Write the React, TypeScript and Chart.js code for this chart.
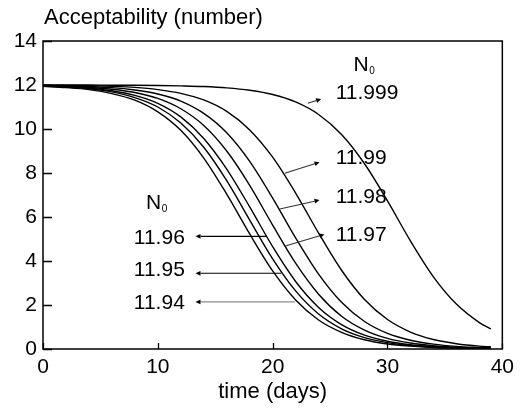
import React, { useEffect, useRef } from "react";
import { Chart, registerables } from "chart.js";

Chart.register(...registerables);

const FONT = "'Liberation Sans', Arial, Helvetica, sans-serif";

// Time axis (days) shared by every curve
const days = [0, 2, 4, 6, 8, 10, 12, 14, 16, 18, 20, 22, 24, 26, 28, 30, 32, 34, 36, 38, 39];

// Acceptability for each initial value N0
const n11999 = [12.0, 12.0, 12.0, 11.99, 11.99, 11.98, 11.96, 11.93, 11.87, 11.76, 11.57, 11.23, 10.66, 9.75, 8.42, 6.73, 4.91, 3.28, 2.04, 1.2, 0.91];
const n1199 = [11.99, 11.98, 11.97, 11.94, 11.89, 11.79, 11.62, 11.32, 10.8, 9.96, 8.72, 7.09, 5.27, 3.58, 2.25, 1.34, 0.77, 0.43, 0.24, 0.13, 0.1];
const n1198 = [11.98, 11.96, 11.93, 11.88, 11.77, 11.59, 11.27, 10.71, 9.83, 8.53, 6.86, 5.05, 3.4, 2.12, 1.25, 0.71, 0.4, 0.22, 0.12, 0.07, 0.05];
const n1197 = [11.97, 11.94, 11.9, 11.81, 11.66, 11.39, 10.92, 10.16, 9.0, 7.44, 5.63, 3.9, 2.49, 1.49, 0.86, 0.48, 0.27, 0.15, 0.08, 0.04, 0.03];
const n1196 = [11.96, 11.92, 11.86, 11.74, 11.53, 11.17, 10.55, 9.57, 8.18, 6.46, 4.65, 3.07, 1.89, 1.11, 0.63, 0.35, 0.19, 0.11, 0.06, 0.03, 0.02];
const n1195 = [11.95, 11.91, 11.83, 11.69, 11.43, 11.0, 10.27, 9.17, 7.65, 5.86, 4.1, 2.64, 1.59, 0.92, 0.52, 0.29, 0.16, 0.09, 0.05, 0.03, 0.02];
const n1194 = [11.94, 11.88, 11.79, 11.61, 11.31, 10.78, 9.94, 8.68, 7.04, 5.23, 3.55, 2.23, 1.32, 0.76, 0.42, 0.23, 0.13, 0.07, 0.04, 0.02, 0.02];

const seriesNames = ["11.999", "11.99", "11.98", "11.97", "11.96", "11.95", "11.94"];
const seriesValues = [n11999, n1199, n1198, n1197, n1196, n1195, n1194];

// Axis ticks
const xTicks = [0, 10, 20, 30, 40];
const yTicks = [0, 2, 4, 6, 8, 10, 12, 14];

const yTitle = "Acceptability (number)";
const xTitle = "time (days)";

// Curve labels with their pointer arrows, in data units:
// [label, labelX, labelY, arrowFromX, arrowFromY, arrowToX, arrowToY, side, colour]
type Callout = [string, number, number, number, number, number, number, "right" | "left", string];
const callouts: Callout[] = [
  ["11.999", 25.49, 11.62, 23.07, 11.17, 24.22, 11.36, "right", "#333"],
  ["11.99", 25.49, 8.68, 21.05, 7.99, 24.08, 8.49, "right", "#333"],
  ["11.98", 25.49, 6.91, 20.62, 6.36, 24.08, 6.77, "right", "#333"],
  ["11.97", 25.49, 5.18, 21.11, 4.68, 24.51, 5.21, "right", "#333"],
  ["11.96", 12.35, 5.03, 19.46, 5.12, 13.28, 5.12, "left", "#000"],
  ["11.95", 12.35, 3.56, 20.76, 3.44, 13.28, 3.44, "left", "#000"],
  ["11.94", 12.35, 2.08, 21.94, 2.14, 13.28, 2.14, "left", "#8a8a8a"],
];

// "N0" headings above each label group: [x, baseline y]
const n0Headings: [number, number][] = [
  [27.04, 12.65],
  [8.98, 6.36],
];

const overlayPlugin = {
  id: "overlay",
  afterDraw(chart: any) {
    const { ctx, chartArea: a, scales } = chart;
    const x = scales.x;
    const y = scales.y;
    ctx.save();

    // frame
    ctx.strokeStyle = "#000";
    ctx.lineWidth = 1.5;
    ctx.strokeRect(a.left, a.top, a.right - a.left, a.bottom - a.top);

    // inward tick marks
    ctx.lineWidth = 1.3;
    ctx.beginPath();
    yTicks.forEach((v) => {
      const py = Math.round(y.getPixelForValue(v)) + 0.5;
      ctx.moveTo(a.left, py);
      ctx.lineTo(a.left + 9, py);
    });
    xTicks.forEach((v) => {
      const px = Math.round(x.getPixelForValue(v)) + 0.5;
      ctx.moveTo(px, a.bottom);
      ctx.lineTo(px, a.bottom - 6);
    });
    ctx.stroke();

    // vertical axis title, set horizontally above the plot
    ctx.fillStyle = "#000";
    ctx.font = `22px ${FONT}`;
    ctx.textAlign = "left";
    ctx.textBaseline = "alphabetic";
    ctx.fillText(yTitle, a.left + 1, a.top - 17);

    // N0 headings
    n0Headings.forEach(([hx, hy]) => {
      const px = x.getPixelForValue(hx);
      const py = y.getPixelForValue(hy);
      ctx.font = `21px ${FONT}`;
      ctx.textAlign = "left";
      ctx.textBaseline = "alphabetic";
      ctx.fillText("N", px, py);
      const w = ctx.measureText("N").width;
      ctx.font = `10px ${FONT}`;
      ctx.fillText("0", px + w + 0.5, py + 3);
    });

    // labels and arrows
    callouts.forEach(([text, lx, ly, fx, fy, tx, ty, side, colour]) => {
      ctx.font = `21px ${FONT}`;
      ctx.fillStyle = "#000";
      ctx.textBaseline = "middle";
      ctx.textAlign = side === "right" ? "left" : "right";
      ctx.fillText(text, x.getPixelForValue(lx), y.getPixelForValue(ly));

      const x1 = x.getPixelForValue(fx);
      const y1 = y.getPixelForValue(fy);
      const x2 = x.getPixelForValue(tx);
      const y2 = y.getPixelForValue(ty);
      const ang = Math.atan2(y2 - y1, x2 - x1);
      const head = 5;
      const half = 2.4;
      ctx.strokeStyle = colour;
      ctx.fillStyle = "#000";
      ctx.lineWidth = 1.1;
      ctx.beginPath();
      ctx.moveTo(x1, y1);
      ctx.lineTo(x2 - Math.cos(ang) * head, y2 - Math.sin(ang) * head);
      ctx.stroke();
      ctx.beginPath();
      ctx.moveTo(x2, y2);
      ctx.lineTo(
        x2 - Math.cos(ang) * head - Math.sin(ang) * half,
        y2 - Math.sin(ang) * head + Math.cos(ang) * half
      );
      ctx.lineTo(
        x2 - Math.cos(ang) * head + Math.sin(ang) * half,
        y2 - Math.sin(ang) * head - Math.cos(ang) * half
      );
      ctx.closePath();
      ctx.fill();
    });

    ctx.restore();
  },
};

export default function App() {
  const canvasRef = useRef<HTMLCanvasElement | null>(null);

  useEffect(() => {
    document.body.style.margin = "0";
    const canvas = canvasRef.current;
    if (!canvas) return;

    const datasets = seriesValues.map((vals, i) => ({
      label: seriesNames[i],
      data: days.map((d, j) => ({ x: d, y: vals[j] })),
      borderColor: "#000",
      backgroundColor: "#000",
      borderWidth: 1.4,
      pointRadius: 0,
      fill: false,
      cubicInterpolationMode: "monotone" as const,
    }));

    const chart = new Chart(canvas, {
      type: "line",
      data: { datasets },
      options: {
        animation: false,
        responsive: false,
        devicePixelRatio: 1,
        layout: { padding: { left: 0, right: 14, top: 41, bottom: 0 } },
        plugins: {
          legend: { display: false },
          tooltip: { enabled: false },
          title: { display: false },
        },
        scales: {
          x: {
            type: "linear",
            min: 0,
            max: 40,
            grid: { display: false, drawTicks: false },
            border: { display: false },
            ticks: {
              stepSize: 10,
              autoSkip: false,
              color: "#000",
              padding: 6,
              maxRotation: 0,
              font: { family: FONT, size: 21 },
            },
            title: {
              display: true,
              text: xTitle,
              color: "#000",
              font: { family: FONT, size: 22 },
              padding: { top: 0, bottom: 7 },
            },
            afterFit(scale: any) {
              scale.height = 63;
            },
          },
          y: {
            type: "linear",
            min: 0,
            max: 14,
            grid: { display: false, drawTicks: false },
            border: { display: false },
            ticks: {
              stepSize: 2,
              color: "#000",
              padding: 6,
              font: { family: FONT, size: 21 },
            },
            afterFit(scale: any) {
              scale.width = 43;
            },
          },
        },
      },
      plugins: [overlayPlugin],
    });

    return () => chart.destroy();
  }, []);

  return (
    <div style={{ width: 520, height: 412, position: "relative", background: "#fff" }}>
      <canvas ref={canvasRef} width={520} height={412} />
    </div>
  );
}
